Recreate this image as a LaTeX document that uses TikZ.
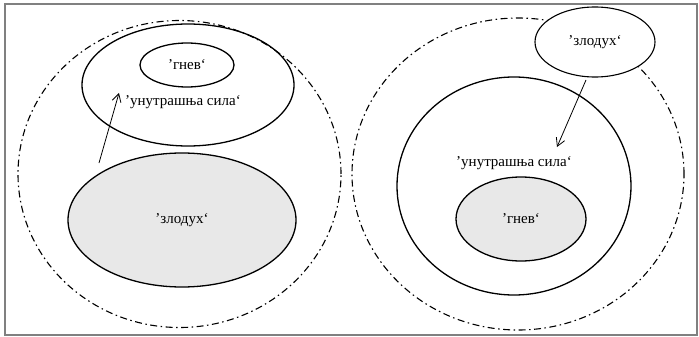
\documentclass[tikz,border=0pt]{standalone}
\usepackage{fontspec}
\setmainfont{Liberation Serif}
\usetikzlibrary{shapes.geometric, arrows.meta}
\newcommand{\quoted}[1]{’#1‘}
\begin{document}
\begin{tikzpicture}[x=1pt, y=-1pt,
    zone/.style={draw, line width=1.3pt, ellipse, inner sep=0pt},
    field/.style={draw, line width=1.1pt, ellipse, inner sep=0pt,
        dash pattern=on 7pt off 3.5pt on 1.5pt off 3.5pt},
    lab/.style={font=\fontsize{15}{17}\selectfont},
    push/.style={-{Straight Barb[length=8pt, width=9pt]}, line width=0.8pt}]
    \useasboundingbox (0,0) rectangle (699,337);
    \draw[gray, line width=1.2pt] (5,4) rectangle (697,335);
    % left: the evil spirit outside, pushing the inner force
    \node[field, minimum width=323pt, minimum height=307pt] (leftfield) at (179.5,174) {};
    \node[zone, minimum width=212pt, minimum height=122pt] (leftforce) at (188,85) {};
    \node[zone, minimum width=94pt, minimum height=44pt, lab] (leftanger) at (187,65) {\quoted{гнев}};
    \node[lab] (leftforcelab) at (183,102) {\quoted{унутрашња сила}};
    \node[zone, fill=gray!18, minimum width=228pt, minimum height=134pt, lab] (leftspirit) at (182,220) {};
    \node[lab] at (leftspirit) {\quoted{злодух}};
    \coordinate (leftfrom) at (99,163);
    \coordinate (leftto) at (119,93);
    \draw[push] (leftfrom) -- (leftto);
    % right: the evil spirit comes in from outside
    \node[field, minimum width=332pt, minimum height=312pt] (rightfield) at (518,174) {};
    \node[zone, minimum width=234pt, minimum height=218pt] (rightforce) at (514,186) {};
    \node[lab] (rightforcelab) at (514,163) {\quoted{унутрашња сила}};
    \node[zone, fill=gray!18, minimum width=130pt, minimum height=84pt, lab] (rightanger) at (521,219) {\quoted{гнев}};
    \node[zone, fill=white, line width=1.1pt, minimum width=120pt, minimum height=70pt, lab] (rightspirit) at (595,42) {\quoted{злодух}};
    \coordinate (rightfrom) at (586,80);
    \coordinate (rightto) at (557,147);
    \draw[push] (rightfrom) -- (rightto);
\end{tikzpicture}
\end{document}
